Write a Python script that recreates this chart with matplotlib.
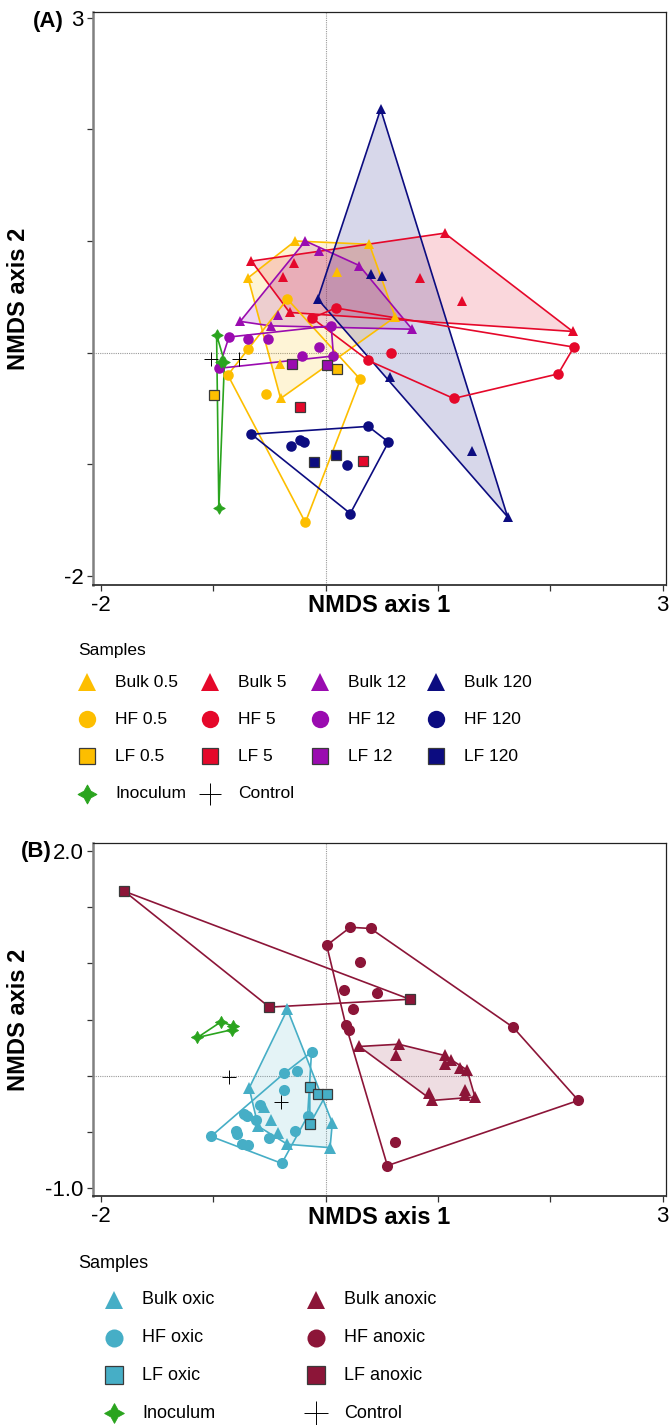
import numpy as np
import matplotlib
matplotlib.use("Agg")
import matplotlib.pyplot as plt

plt.rcParams["font.family"] = ["Liberation Sans", "DejaVu Sans"]

W, H = 672, 1425

# ---------------- Panel A: NMDS scores ----------------
bulk05_x = [-0.27, 0.39, 0.62, -0.40, -0.69, 0.10, -0.41]
bulk05_y = [1.00, 0.97, 0.32, -0.41, 0.67, 0.72, -0.10]
hf05_x = [-0.34, 0.31, -0.18, -0.87, -0.69, -0.53]
hf05_y = [0.48, -0.24, -1.52, -0.20, 0.03, -0.37]
lf05_x = [-0.99, 0.10]
lf05_y = [-0.38, -0.15]

bulk5_x = [-0.66, 1.06, 2.20, -0.32, -0.28, -0.38, 0.84, 1.21]
bulk5_y = [0.82, 1.07, 0.19, 0.36, 0.80, 0.68, 0.67, 0.46]
hf5_x = [0.09, -0.12, 0.38, 1.14, 2.07, 2.21, 0.58]
hf5_y = [0.40, 0.31, -0.07, -0.41, -0.19, 0.05, 0.00]
lf5_x = [-0.23, 0.33]
lf5_y = [-0.49, -0.97]

bulk12_x = [-0.18, -0.06, 0.30, 0.77, -0.49, -0.76, -0.42]
bulk12_y = [1.00, 0.91, 0.78, 0.21, 0.24, 0.28, 0.34]
hf12_x = [-0.86, -0.69, -0.51, -0.06, 0.05, 0.07, -0.21, -0.95]
hf12_y = [0.14, 0.12, 0.12, 0.05, 0.24, -0.03, -0.03, -0.14]
lf12_x = [-0.30, 0.01]
lf12_y = [-0.10, -0.11]

bulk120_x = [0.49, -0.07, 1.62, 0.40, 0.50, 0.57, 1.30]
bulk120_y = [2.18, 0.48, -1.47, 0.70, 0.69, -0.22, -0.88]
hf120_x = [-0.66, 0.38, 0.56, 0.22, -0.31, -0.23, -0.19, 0.19]
hf120_y = [-0.73, -0.66, -0.80, -1.44, -0.84, -0.78, -0.80, -1.01]
lf120_x = [-0.10, 0.09]
lf120_y = [-0.98, -0.92]

inoc_a_x = [-0.97, -0.93, -0.90, -0.95]
inoc_a_y = [0.16, -0.08, -0.08, -1.39]
ctrl_a_x = [-1.02, -0.77]
ctrl_a_y = [-0.06, -0.06]

# ---------------- Panel B ----------------
bulk_oxic_x = [-0.34, -0.68, 0.06, 0.04, -0.34, -0.55, -0.49, -0.60, -0.42]
bulk_oxic_y = [0.59, -0.11, -0.42, -0.64, -0.61, -0.28, -0.39, -0.45, -0.51]
hf_oxic_x = [-0.125, -0.37, -0.25, -0.37, -0.58, -0.73, -0.70, -0.62, -0.80,
             -0.79, -1.02, -0.74, -0.69, -0.50, -0.27, -0.16, -0.39]
hf_oxic_y = [0.21, 0.02, 0.04, -0.13, -0.26, -0.34, -0.36, -0.39, -0.49,
             -0.52, -0.54, -0.61, -0.62, -0.55, -0.49, -0.36, -0.78]
lf_oxic_x = [-0.14, -0.07, 0.01, -0.14]
lf_oxic_y = [-0.10, -0.16, -0.16, -0.43]

bulk_anox_x = [0.30, 0.65, 1.06, 1.26, 1.33, 0.95, 0.92, 0.63, 1.06, 1.12,
               1.20, 1.24, 1.24]
bulk_anox_y = [0.26, 0.28, 0.18, 0.05, -0.19, -0.22, -0.15, 0.18, 0.10, 0.14,
               0.07, -0.13, -0.17]
hf_anox_x = [0.01, 0.22, 0.40, 1.67, 2.25, 0.55, 0.31, 0.16, 0.46, 0.24, 0.18,
             0.21, 0.62]
hf_anox_y = [1.16, 1.32, 1.31, 0.43, -0.22, -0.80, 1.01, 0.76, 0.74, 0.59,
             0.45, 0.41, -0.59]
lf_anox_x = [-1.79, -0.50, 0.75]
lf_anox_y = [1.64, 0.61, 0.68]

inoc_b_x = [-1.14, -0.93, -0.82, -0.83]
inoc_b_y = [0.34, 0.48, 0.44, 0.41]
ctrl_b_x = [-0.86, -0.40]
ctrl_b_y = [-0.01, -0.23]

C05 = "#FDBE00"
C5 = "#E5082A"
C12 = "#9A0BB0"
C120 = "#0C0C80"
CINOC = "#2AA41E"
COXIC = "#46AEC6"
CANOX = "#8C1538"

STAR = (4, 1, 0)


def convex_hull(xs, ys):
    pts = sorted(set(zip(xs, ys)))
    if len(pts) < 3:
        return None

    def cross(o, a, b):
        return (a[0] - o[0]) * (b[1] - o[1]) - (a[1] - o[1]) * (b[0] - o[0])

    lower, upper = [], []
    for p in pts:
        while len(lower) >= 2 and cross(lower[-2], lower[-1], p) <= 0:
            lower.pop()
        lower.append(p)
    for p in reversed(pts):
        while len(upper) >= 2 and cross(upper[-2], upper[-1], p) <= 0:
            upper.pop()
        upper.append(p)
    h = lower[:-1] + upper[:-1]
    return np.array(h + [h[0]])


def marker_style(marker, color, size):
    if marker == "s":
        return dict(marker="s", ms=size * 0.95, mfc=color, mec="#3a3a3a", mew=0.9)
    if marker == "+":
        return dict(marker="+", ms=size * 1.3, mec="black", mew=0.7)
    if marker == STAR:
        return dict(marker=STAR, ms=size * 1.1, mfc=color, mec=color, mew=0.6)
    return dict(marker=marker, ms=size, mfc=color, mec=color, mew=0)


def draw_group(ax, xs, ys, color, marker, filled, size=7.0, alpha=0.15):
    h = convex_hull(xs, ys) if marker != "+" else None
    if h is not None:
        if filled:
            ax.fill(h[:, 0], h[:, 1], color=color, alpha=alpha, lw=0, zorder=1)
        ax.plot(h[:, 0], h[:, 1], color=color, lw=1.2, zorder=2)
    ax.plot(xs, ys, ls="none", zorder=3, **marker_style(marker, color, size))


def style_axes(ax, xlim, ylim, yticks, ylabels):
    ax.set_xlim(*xlim)
    ax.set_ylim(*ylim)
    ax.set_xticks([-2, -1, 0, 1, 2, 3])
    ax.set_xticklabels(["-2", "", "", "", "", "3"])
    ax.set_yticks(yticks)
    ax.set_yticklabels(ylabels)
    ax.tick_params(direction="out", length=4, width=0.9, labelsize=16,
                   colors="#333333", labelcolor="black", pad=3)
    ax.axvline(0, color="#9a9a9a", lw=0.8, ls=(0, (1, 1)), zorder=0.5)
    ax.axhline(0, color="#9a9a9a", lw=0.8, ls=(0, (1, 1)), zorder=0.5)
    ax.spines["left"].set_color("#808080")
    ax.spines["left"].set_linewidth(1.8)
    ax.spines["bottom"].set_color("#333333")
    ax.spines["bottom"].set_linewidth(1.3)
    for s in ("top", "right"):
        ax.spines[s].set_color("#222222")
        ax.spines[s].set_linewidth(0.9)


def box(left, top, right, bottom):
    return [left / W, 1 - bottom / H, (right - left) / W, (bottom - top) / H]


fig = plt.figure(figsize=(W / 100, H / 100), dpi=100)

# ---------------- Panel A ----------------
axA = fig.add_axes(box(93, 12, 666, 585))
groups_a = [
    (bulk05_x, bulk05_y, C05, "^", True),
    (bulk5_x, bulk5_y, C5, "^", True),
    (bulk12_x, bulk12_y, C12, "^", True),
    (bulk120_x, bulk120_y, C120, "^", True),
    (hf05_x, hf05_y, C05, "o", False),
    (hf5_x, hf5_y, C5, "o", False),
    (hf12_x, hf12_y, C12, "o", False),
    (hf120_x, hf120_y, C120, "o", False),
    (inoc_a_x, inoc_a_y, CINOC, STAR, False),
    (lf05_x, lf05_y, C05, "s", False),
    (lf5_x, lf5_y, C5, "s", False),
    (lf12_x, lf12_y, C12, "s", False),
    (lf120_x, lf120_y, C120, "s", False),
    (ctrl_a_x, ctrl_a_y, "black", "+", False),
]
for xs, ys, c, m, f in groups_a:
    draw_group(axA, xs, ys, c, m, f, size=7.6, alpha=0.16)
style_axes(axA, (-2.07, 3.03), (-2.08, 3.05), [-2, -1, 0, 1, 2, 3],
           ["-2", "", "", "", "", "3"])

# ---------------- Panel B ----------------
axB = fig.add_axes(box(93, 843, 666, 1196))
groups_b = [
    (bulk_oxic_x, bulk_oxic_y, COXIC, "^", True),
    (bulk_anox_x, bulk_anox_y, CANOX, "^", True),
    (hf_oxic_x, hf_oxic_y, COXIC, "o", False),
    (hf_anox_x, hf_anox_y, CANOX, "o", False),
    (inoc_b_x, inoc_b_y, CINOC, STAR, False),
    (lf_oxic_x, lf_oxic_y, COXIC, "s", False),
    (lf_anox_x, lf_anox_y, CANOX, "s", False),
    (ctrl_b_x, ctrl_b_y, "black", "+", False),
]
for xs, ys, c, m, f in groups_b:
    draw_group(axB, xs, ys, c, m, f, size=8.0, alpha=0.14)
style_axes(axB, (-2.07, 3.03), (-1.07, 2.07),
           [-1.0, -0.5, 0, 0.5, 1.0, 1.5, 2.0],
           ["-1.0", "", "", "", "", "", "2.0"])

# axis titles and panel letters
for ax, top, bottom in ((axA, 12, 585), (axB, 843, 1196)):
    fig.text((93 + 666) / 2 / W, 1 - (bottom + 21) / H, "NMDS axis 1",
             ha="center", va="center", fontsize=17, fontweight="bold")
    fig.text(19 / W, 1 - (top + bottom) / 2 / H, "NMDS axis 2", rotation=90,
             ha="center", va="center", fontsize=17, fontweight="bold")
fig.text(48 / W, 1 - 22 / H, "(A)", ha="center", va="center",
         fontsize=16, fontweight="bold")
fig.text(36 / W, 1 - 852 / H, "(B)", ha="center", va="center",
         fontsize=16, fontweight="bold")

# ---------------- Legends ----------------
leg = fig.add_axes([0, 0, 1, 1], zorder=-1)
leg.set_xlim(0, W)
leg.set_ylim(H, 0)
leg.axis("off")

legend_a = [
    [("Bulk 0.5", C05, "^"), ("Bulk 5", C5, "^"), ("Bulk 12", C12, "^"), ("Bulk 120", C120, "^")],
    [("HF 0.5", C05, "o"), ("HF 5", C5, "o"), ("HF 12", C12, "o"), ("HF 120", C120, "o")],
    [("LF 0.5", C05, "s"), ("LF 5", C5, "s"), ("LF 12", C12, "s"), ("LF 120", C120, "s")],
    [("Inoculum", CINOC, STAR), ("Control", "black", "+")],
]
legend_b = [
    [("Bulk oxic", COXIC, "^"), ("Bulk anoxic", CANOX, "^")],
    [("HF oxic", COXIC, "o"), ("HF anoxic", CANOX, "o")],
    [("LF oxic", COXIC, "s"), ("LF anoxic", CANOX, "s")],
    [("Inoculum", CINOC, STAR), ("Control", "black", "+")],
]


def draw_legend(rows, title_y, row0, dy, col_x, fs, msize):
    leg.text(78, title_y, "Samples", ha="left", va="center", fontsize=fs)
    for r, row in enumerate(rows):
        y = row0 + r * dy
        for c, (label, color, marker) in enumerate(row):
            mx = col_x[c]
            leg.plot([mx], [y], ls="none", **marker_style(marker, color, msize))
            leg.text(mx + 28, y, label, ha="left", va="center", fontsize=fs)


draw_legend(legend_a, 650, 682, 37.2, [87, 210, 320, 436], 12.5, 12.5)
draw_legend(legend_b, 1263, 1300, 37.7, [114, 316], 13, 13)

fig.savefig("out.png", dpi=100)
